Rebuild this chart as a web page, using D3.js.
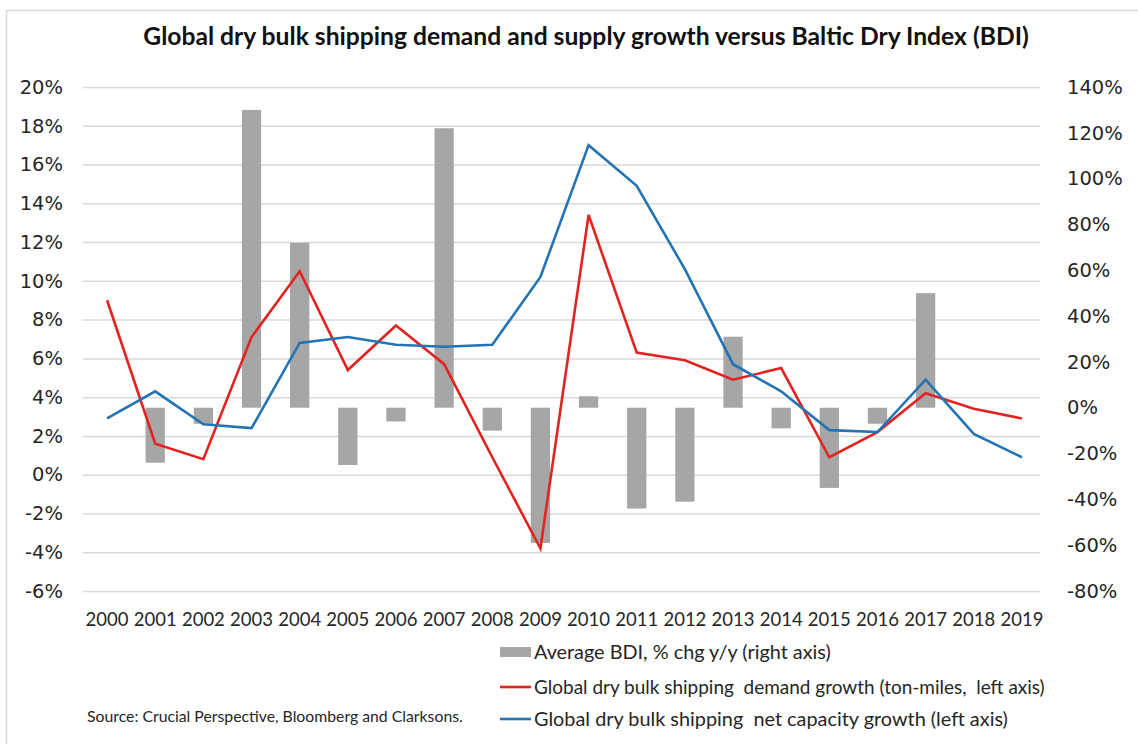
<!DOCTYPE html>
<html>
<head>
<meta charset="utf-8">
<script src="https://cdn.jsdelivr.net/npm/d3@7"></script>
<style>
  body { margin: 0; background: #fff; }
  svg { display: block; }
  text { white-space: pre; }
</style>
</head>
<body>
<svg id="chart" width="1138" height="744"></svg>
<script>
// ---- data ----
const years = ["2000","2001","2002","2003","2004","2005","2006","2007","2008","2009",
               "2010","2011","2012","2013","2014","2015","2016","2017","2018","2019"];
// Average BDI, % change y/y (right axis); null = no bar
const bdiChange = [null, -24, -7, 130, 72, -25, -6, 122, -10, -59,
                   5, -44, -41, 31, -9, -35, -7, 50, null, null];
// Demand growth, ton-miles (left axis, %)
const demandGrowth = [9.0, 1.6, 0.8, 7.1, 10.5, 5.4, 7.7, 5.7, 0.9, -3.8,
                      13.4, 6.3, 5.9, 4.9, 5.5, 0.9, 2.2, 4.2, 3.4, 2.9];
// Net capacity growth (left axis, %)
const capacityGrowth = [2.9, 4.3, 2.6, 2.4, 6.8, 7.1, 6.7, 6.6, 6.7, 10.2,
                        17.0, 14.9, 10.6, 5.7, 4.3, 2.3, 2.2, 4.9, 2.1, 0.9];
const leftTicks = [20, 18, 16, 14, 12, 10, 8, 6, 4, 2, 0, -2, -4, -6];
const rightTicks = [140, 120, 100, 80, 60, 40, 20, 0, -20, -40, -60, -80];

const titleText = "Global dry bulk shipping demand and supply growth versus Baltic Dry Index (BDI)";
const legendLabels = [
  "Average BDI, % chg y/y (right axis)",
  "Global dry bulk shipping  demand growth (ton-miles,  left axis)",
  "Global dry bulk shipping  net capacity growth (left axis)"
];
const sourceText = "Source: Crucial Perspective, Bloomberg and Clarksons.";

// ---- styling ----
const RED = "#e2231f", BLUE = "#2373b5", BAR = "#a6a6a6", GRID = "#d9d9d9", INK = "#262626";
const sansWide = "'DejaVu Sans', Verdana, sans-serif";
const sansHuman = "Lato, 'Open Sans', sans-serif";

const svg = d3.select("#chart");

// outer frame (top and left edges visible)
svg.append("rect")
  .attr("x", 6.5).attr("y", 10.5).attr("width", 1200).attr("height", 800)
  .attr("fill", "none").attr("stroke", GRID).attr("stroke-width", 1.5);

const plot = { left: 83, right: 1046, top: 87, bottom: 591 };

const x = d3.scaleBand().domain(years).range([plot.left, plot.right]);
const yL = d3.scaleLinear().domain([-6, 20]).range([plot.bottom, plot.top]);
const yR = d3.scaleLinear().domain([-80, 140]).range([plot.bottom, plot.top]);
const cx = d => x(d) + x.bandwidth() / 2;

// scale a text's font-size so its rendered width equals target
function fitWidth(sel, target) {
  const node = sel.node();
  const size = parseFloat(sel.attr("font-size"));
  const w = node.getComputedTextLength();
  if (w > 0) sel.attr("font-size", (size * target / w).toFixed(2));
  return sel;
}

// gridlines
const grid = svg.append("g")
  .attr("transform", `translate(${plot.left},0)`)
  .call(d3.axisLeft(yL).tickValues(leftTicks).tickSize(-(plot.right - plot.left - 6)).tickFormat(""));
grid.select(".domain").remove();
grid.selectAll(".tick line").attr("stroke", GRID).attr("stroke-width", 1.5)
  .attr("transform", "translate(0,0)");

// left axis labels
const axL = svg.append("g")
  .attr("transform", `translate(63,0)`)
  .call(d3.axisLeft(yL).tickValues(leftTicks).tickSize(0).tickPadding(0).tickFormat(d => d + "%"));
axL.select(".domain").remove();
axL.selectAll("text").attr("font-family", sansWide).attr("font-size", 19.5).attr("fill", INK);

// right axis labels
const axR = svg.append("g")
  .attr("transform", `translate(1067,0)`)
  .call(d3.axisRight(yR).tickValues(rightTicks).tickSize(0).tickPadding(0).tickFormat(d => d + "%"));
axR.select(".domain").remove();
axR.selectAll("text").attr("font-family", sansWide).attr("font-size", 19.5).attr("fill", INK);

// category labels
const axX = svg.append("g")
  .attr("transform", `translate(0,613)`)
  .call(d3.axisBottom(x).tickSize(0).tickPadding(0));
axX.select(".domain").remove();
axX.selectAll("text").attr("font-family", sansHuman).attr("font-size", 18.5).attr("fill", INK);

// BDI bars (right axis)
const barW = x.bandwidth() * 0.4;
const barData = years.map((yr, i) => ({ yr, v: bdiChange[i] })).filter(d => d.v !== null);
svg.append("g").selectAll("rect").data(barData).join("rect")
  .attr("x", d => cx(d.yr) - barW / 2)
  .attr("width", barW)
  .attr("y", d => Math.min(yR(d.v), yR(0)))
  .attr("height", d => Math.abs(yR(d.v) - yR(0)))
  .attr("fill", BAR);

// growth lines (left axis)
const line = d3.line().x(d => cx(d.yr)).y(d => yL(d.v));
[[demandGrowth, RED], [capacityGrowth, BLUE]].forEach(([vals, col]) => {
  svg.append("path")
    .datum(years.map((yr, i) => ({ yr, v: vals[i] })))
    .attr("d", line)
    .attr("fill", "none")
    .attr("stroke", col)
    .attr("stroke-width", 2.6)
    .attr("stroke-linejoin", "miter");
});

// title
const title = svg.append("text")
  .attr("x", 586).attr("y", 45)
  .attr("text-anchor", "middle")
  .attr("font-family", sansHuman).attr("font-weight", 700)
  .attr("font-size", 22).attr("fill", "#111")
  .text(titleText);
fitWidth(title, 886);

// legend
const legend = svg.append("g");
const legendRows = [
  { label: legendLabels[0], kind: "bar", color: BAR, cy: 652, width: 297 },
  { label: legendLabels[1], kind: "line", color: RED, cy: 687, width: 511 },
  { label: legendLabels[2], kind: "line", color: BLUE, cy: 719, width: 474 }
];
legendRows.forEach(r => {
  if (r.kind === "bar") {
    legend.append("rect").attr("x", 500).attr("y", r.cy - 5).attr("width", 31).attr("height", 10)
      .attr("fill", r.color);
  } else {
    legend.append("line").attr("x1", 500).attr("x2", 531).attr("y1", r.cy).attr("y2", r.cy)
      .attr("stroke", r.color).attr("stroke-width", 2.6);
  }
  const t = legend.append("text")
    .attr("x", 534).attr("y", r.cy + 7)
    .attr("font-family", sansHuman).attr("font-size", 18).attr("fill", INK)
    .text(r.label);
  fitWidth(t, r.width);
});

// source note
const src = svg.append("text")
  .attr("x", 87).attr("y", 722)
  .attr("font-family", sansHuman).attr("font-size", 14).attr("fill", INK)
  .text(sourceText);
fitWidth(src, 376);
</script>
</body>
</html>
